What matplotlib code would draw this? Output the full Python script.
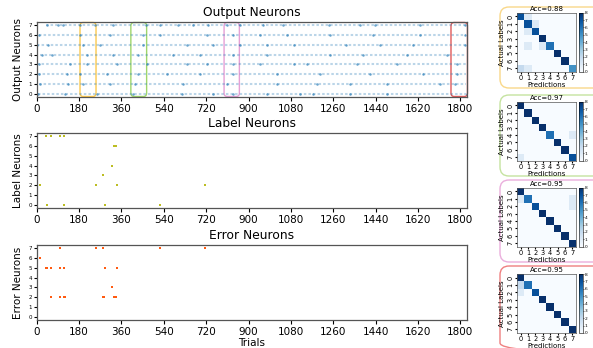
import matplotlib
matplotlib.use("Agg")
import matplotlib.pyplot as plt
import numpy as np
from matplotlib.patches import FancyBboxPatch

W, H = 593, 348
fig = plt.figure(figsize=(W / 100, H / 100), dpi=100)

def ax_px(x0, y0, x1, y1):
    return fig.add_axes([x0 / W, 1 - y1 / H, (x1 - x0) / W, (y1 - y0) / H])

# ---------------- data ----------------
neurons = list(range(8))
xticks = [0, 180, 360, 540, 720, 900, 1080, 1260, 1440, 1620, 1800]

# faint activity spans per output neuron (start, end trial)
out_span_start = [5, 8, 5, 3, 15, 3, 8, 40]
out_span_end = [1825, 1822, 1825, 1822, 1825, 1825, 1822, 1825]

# stronger output spikes per neuron
out_spikes = [
    [6, 120, 255, 411, 616, 751, 836, 977, 1119, 1175, 1331, 1487, 1827],
    [16, 135, 198, 312, 418, 623, 807, 1020, 1189, 1331, 1487, 1713, 1777],
    [11, 128, 184, 297, 432, 552, 694, 836, 1020, 1204, 1416, 1642, 1784],
    [11, 142, 212, 340, 467, 637, 722, 836, 949, 1091, 1147, 1359, 1529, 1784],
    [21, 63, 212, 326, 432, 580, 694, 836, 977, 1246, 1387, 1571, 1741],
    [3, 49, 198, 269, 453, 637, 751, 864, 977, 1091, 1316, 1458, 1600, 1820],
    [11, 184, 312, 453, 524, 722, 836, 949, 1062, 1246, 1430, 1628, 1820],
    [43, 92, 113, 184, 248, 326, 463, 524, 602, 665, 729, 807, 864, 963,
     1048, 1243, 1373, 1437, 1628, 1820],
]

# highlighted windows (start, end trial)
win_start = [184, 400, 796, 1760]
win_end = [252, 467, 861, 1830]
win_colors = ["#fcc94e", "#9fd66b", "#e6a0d6", "#e05a5a"]

label_trials = [39, 62, 97, 114, 327, 335, 321, 281, 15, 253, 341, 715, 43, 118, 290, 522]
label_neuron = [7, 7, 7, 7, 6, 6, 4, 3, 2, 2, 2, 2, 0, 0, 0, 0]

error_trials = [15, 39, 44, 62, 97, 114, 97, 253, 281, 522, 715, 290, 341, 321,
                62, 97, 114, 120, 281, 287, 327, 335]
error_neuron = [6, 5, 5, 5, 5, 5, 7, 7, 7, 7, 7, 5, 5, 3,
                2, 2, 2, 2, 2, 2, 2, 2]

acc_titles = ["Acc=0.88", "Acc=0.97", "Acc=0.95", "Acc=0.95"]
cm1 = [[7, 1, 0, 0, 0, 0, 0, 0],
       [0, 7, 1, 0, 0, 0, 0, 0],
       [0, 1, 7, 0, 0, 0, 0, 0],
       [0, 0, 0, 8, 0, 0, 0, 0],
       [0, 1, 0, 1, 6, 0, 0, 0],
       [0, 0, 0, 0, 0, 8, 0, 0],
       [0, 0, 0, 0, 0, 0, 8, 0],
       [2, 1, 0, 0, 0, 0, 0, 5]]
cm2 = [[8, 0, 0, 0, 0, 0, 0, 0],
       [0, 8, 0, 0, 0, 0, 0, 0],
       [0, 0, 8, 0, 0, 0, 0, 0],
       [0, 0, 0, 8, 0, 0, 0, 0],
       [0, 0, 0, 0, 6, 0, 0, 1],
       [0, 0, 0, 0, 0, 8, 0, 0],
       [0, 0, 0, 0, 0, 0, 8, 0],
       [1, 0, 0, 0, 0, 0, 0, 7]]
cm3 = [[8, 0, 0, 0, 0, 0, 0, 0],
       [1, 6, 0, 0, 0, 0, 0, 1],
       [0, 0, 7, 0, 0, 0, 0, 1],
       [0, 0, 0, 8, 0, 0, 0, 0],
       [0, 0, 0, 0, 8, 0, 0, 0],
       [0, 0, 0, 0, 0, 8, 0, 0],
       [0, 0, 0, 0, 0, 0, 8, 0],
       [0, 0, 0, 0, 0, 0, 0, 8]]
cm4 = [[8, 0, 0, 0, 0, 0, 0, 0],
       [2, 6, 0, 0, 0, 0, 0, 0],
       [1, 0, 7, 0, 0, 0, 0, 0],
       [0, 0, 0, 8, 0, 0, 0, 0],
       [0, 0, 0, 0, 8, 0, 0, 0],
       [0, 0, 0, 0, 0, 8, 0, 0],
       [0, 0, 0, 0, 0, 0, 8, 0],
       [0, 0, 0, 0, 0, 0, 0, 8]]
cms = [cm1, cm2, cm3, cm4]
box_colors = ["#f9d88a", "#c5e3a0", "#eaaedc", "#ef8080"]

# ---------------- left panels ----------------
XL, XR = 36.7, 467
panels = [("Output Neurons", 22, 97), ("Label Neurons", 133, 208), ("Error Neurons", 245, 320)]
axes = []
for title, t, b in panels:
    ax = ax_px(XL, t, XR, b)
    ax.set_xlim(0, 1828)
    ax.set_ylim(-0.35, 7.35)
    ax.set_xticks(xticks)
    ax.set_yticks(neurons)
    ax.tick_params(axis="x", labelsize=7.5, length=3, pad=2)
    ax.tick_params(axis="y", labelsize=4, length=2, pad=1.5)
    ax.set_title(title, fontsize=8.8, pad=4)
    ax.set_ylabel(title, fontsize=7.5, labelpad=4)
    for s in ax.spines.values():
        s.set_color("#555555")
        s.set_linewidth(0.9)
    axes.append(ax)

ax0, ax1, ax2 = axes
for n in neurons:
    ax0.plot([out_span_start[n], out_span_end[n]], [n, n], color="#1f77b4",
             alpha=0.3, lw=1.5, ls=(0, (1.2, 1.0)), solid_capstyle="butt")
    ax0.plot(out_spikes[n], [n] * len(out_spikes[n]), ls="none", marker="o",
             ms=1.8, color="#1f77b4", alpha=0.65, mew=0)

for s, e, c in zip(win_start, win_end, win_colors):
    p = FancyBboxPatch((s, -0.3), e - s, 7.6,
                       boxstyle="round,pad=0,rounding_size=14",
                       mutation_aspect=0.025, fill=False, ec=c, lw=1.0, clip_on=False)
    ax0.add_patch(p)

ax1.plot(label_trials, label_neuron, ls="none", marker="s", ms=1.9,
         color="#bcbd22", mew=0)
ax2.plot(error_trials, error_neuron, ls="none", marker="s", ms=2.0,
         color="#ff5a10", mew=0)
ax2.set_xlabel("Trials", fontsize=7.5, labelpad=1)

# ---------------- right panels ----------------
box_tops = [7, 95, 180, 266]
box_bots = [88, 176, 262, 352]
mat_tops = [12.7, 101.7, 187.7, 274]
bg = fig.add_axes([0, 0, 1, 1], zorder=-1)
bg.set_xlim(0, W)
bg.set_ylim(H, 0)
bg.axis("off")
for i in range(4):
    p = FancyBboxPatch((500, box_tops[i]), 110, box_bots[i] - box_tops[i],
                       boxstyle="round,pad=0,rounding_size=9",
                       fill=False, ec=box_colors[i], lw=1.0, clip_on=False)
    bg.add_patch(p)

    t = mat_tops[i]
    axm = ax_px(517, t, 576, t + 59)
    im = axm.imshow(np.array(cms[i]), cmap="Blues", vmin=0, vmax=8, aspect="auto")
    axm.set_xticks(neurons)
    axm.set_yticks(neurons)
    axm.tick_params(labelsize=4.8, length=1.5, pad=1)
    for lab in axm.get_yticklabels():
        lab.set_rotation(90)
        lab.set_va("center")
    axm.set_title(acc_titles[i], fontsize=5, pad=1.5)
    axm.set_xlabel("Predictions", fontsize=5, labelpad=0.5)
    axm.set_ylabel("Actual Labels", fontsize=5, labelpad=1.5)
    for s in axm.spines.values():
        s.set_linewidth(0.5)
        s.set_color("#555555")
    cax = ax_px(579, t, 582.5, t + 59)
    cb = fig.colorbar(im, cax=cax, ticks=list(range(9)))
    cb.ax.tick_params(labelsize=3.2, length=1, pad=0.8, width=0.4)
    cb.outline.set_linewidth(0.4)

fig.savefig("out.png", dpi=100)
